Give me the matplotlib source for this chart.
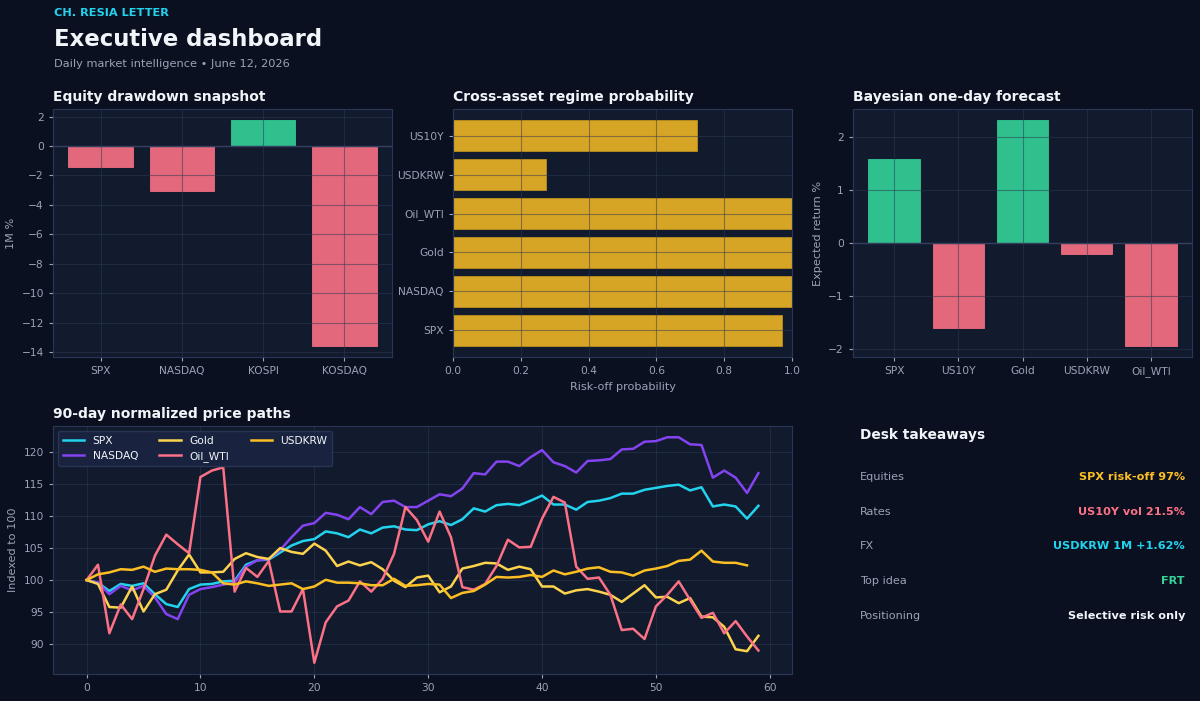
import numpy as np
import matplotlib
matplotlib.use("Agg")
import matplotlib.pyplot as plt

# ---- data ----
eq_names = ["SPX", "NASDAQ", "KOSPI", "KOSDAQ"]
eq_1m = [-1.41, -3.09, 1.75, -13.57]

regime_names = ["SPX", "NASDAQ", "Gold", "Oil_WTI", "USDKRW", "US10Y"]
regime_prob = [0.97, 1.0, 1.0, 1.0, 0.275, 0.72]

fc_names = ["SPX", "US10Y", "Gold", "USDKRW", "Oil_WTI"]
fc_ret = [1.58, -1.61, 2.31, -0.21, -1.94]

spx = [100.0, 99.6, 98.3, 99.4, 99.1, 99.5, 97.8, 96.25, 95.8, 98.6,
       99.3, 99.4, 99.8, 99.9, 102.4, 103.1, 103.2, 104.3, 105.4, 106.1,
       106.4, 107.6, 107.3, 106.7, 107.9, 107.3, 108.2, 108.4, 107.9, 107.8,
       108.7, 109.2, 108.6, 109.5, 111.2, 110.7, 111.7, 111.9, 111.7, 112.4,
       113.2, 111.8, 111.8, 111.0, 112.2, 112.4, 112.8, 113.5, 113.5, 114.1,
       114.4, 114.7, 114.9, 114.0, 114.5, 111.5, 111.8, 111.5, 109.6, 111.6]
nasdaq = [100.0, 99.6, 97.8, 99.1, 98.4, 99.1, 97.3, 94.7, 93.9, 97.7,
          98.6, 98.9, 99.3, 99.6, 102.1, 103.1, 103.3, 104.7, 106.7, 108.5,
          108.9, 110.5, 110.2, 109.5, 111.4, 110.3, 112.2, 112.4, 111.4, 111.4,
          112.4, 113.4, 113.1, 114.3, 116.7, 116.5, 118.5, 118.5, 117.8, 119.2,
          120.3, 118.4, 117.8, 116.8, 118.6, 118.7, 118.9, 120.4, 120.5, 121.6,
          121.7, 122.3, 122.3, 121.2, 121.1, 116.0, 117.1, 116.0, 113.6, 116.7]
gold = [100.0, 99.4, 95.8, 95.7, 99.0, 95.1, 97.8, 98.5, 101.5, 104.0,
        101.2, 101.2, 101.3, 103.3, 104.2, 103.6, 103.3, 105.0, 104.4, 104.1,
        105.7, 104.6, 102.2, 102.9, 102.3, 102.8, 101.7, 99.9, 98.9, 100.4,
        100.7, 98.1, 99.0, 101.8, 102.2, 102.7, 102.6, 101.6, 102.1, 101.7,
        99.0, 99.0, 97.9, 98.4, 98.6, 98.2, 97.7, 96.6, 97.9, 99.2,
        97.3, 97.4, 96.4, 97.2, 94.3, 94.2, 92.7, 89.2, 88.9, 91.3]
oil = [100.0, 102.4, 91.7, 96.2, 93.9, 98.6, 103.8, 107.1, 105.6, 104.2,
       116.1, 117.1, 117.6, 98.2, 101.9, 100.5, 103.0, 95.1, 95.1, 98.6,
       87.1, 93.4, 95.9, 96.8, 99.8, 98.2, 100.2, 104.1, 111.4, 109.4,
       106.0, 110.7, 106.7, 98.9, 98.5, 99.4, 102.2, 106.3, 105.1, 105.2,
       109.6, 113.0, 112.1, 102.1, 100.2, 100.4, 97.7, 92.2, 92.4, 90.8,
       95.9, 97.7, 99.8, 96.9, 94.1, 94.9, 91.7, 93.6, 91.2, 89.0]
usdkrw = [100.0, 100.9, 101.2, 101.7, 101.6, 102.1, 101.3, 101.8, 101.7, 101.7,
          101.6, 101.2, 99.5, 99.3, 99.8, 99.5, 99.1, 99.3, 99.5, 98.6,
          99.0, 100.05, 99.6, 99.6, 99.5, 99.2, 99.2, 100.2, 99.1, 99.2,
          99.4, 99.3, 97.2, 98.0, 98.3, 99.3, 100.5, 100.4, 100.5, 100.8,
          100.5, 101.5, 100.9, 101.3, 101.8, 102.0, 101.3, 101.2, 100.7, 101.5,
          101.8, 102.2, 103.0, 103.2, 104.6, 102.9, 102.7, 102.7, 102.3]

takeaway_keys = ["Equities", "Rates", "FX", "Top idea", "Positioning"]
takeaway_vals = ["SPX risk-off 97%", "US10Y vol 21.5%", "USDKRW 1M +1.62%", "FRT", "Selective risk only"]

# ---- style ----
BG = "#0b1020"
PANEL = "#121a2e"
EDGE = "#2a3656"
GRID = "#2c3852"
TICK = "#9aa3b8"
WHITE = "#f1f5f9"
GREEN = "#34d399"
RED = "#fb7185"
AMBER = "#fbbf24"
CYAN = "#22d3ee"
PURPLE = "#8443f0"
PALE = "#fcd34d"

W, H = 1200, 701


def rect(l, t, r, b):
    return [l / W, 1 - b / H, (r - l) / W, (b - t) / H]


def style(ax, title):
    ax.set_facecolor(PANEL)
    for s in ax.spines.values():
        s.set_color(EDGE)
    ax.tick_params(colors=TICK, labelsize=7.7, length=3)
    ax.grid(True, color=GRID, linewidth=0.8, alpha=0.5)
    ax.set_title(title, loc="left", color=WHITE, fontsize=10,
                 fontweight="bold", pad=6)


fig = plt.figure(figsize=(12, 7.01), dpi=100, facecolor=BG)

fig.text(54 / W, 1 - 13 / H, "CH. RESIA LETTER", color=CYAN, fontsize=8.2,
         fontweight="bold", va="center")
fig.text(54 / W, 1 - 39 / H, "Executive dashboard", color=WHITE, fontsize=16.4,
         fontweight="bold", va="center")
fig.text(54 / W, 1 - 64 / H, "Daily market intelligence \u2022 June 12, 2026",
         color=TICK, fontsize=8.2, va="center")

# equity drawdown
ax1 = fig.add_axes(rect(53, 109, 392, 357))
style(ax1, "Equity drawdown snapshot")
ax1.bar(eq_names, eq_1m, width=0.8, alpha=0.9,
        color=[GREEN if v >= 0 else RED for v in eq_1m],
        edgecolor=[GREEN if v >= 0 else RED for v in eq_1m], linewidth=0.6)
ax1.axhline(0, color="#34405e", linewidth=1)
ax1.set_ylabel("1M %", color=TICK, fontsize=8.1)

# regime probability
ax2 = fig.add_axes(rect(453, 109, 792, 357))
style(ax2, "Cross-asset regime probability")
ax2.barh(regime_names, regime_prob, height=0.8, color=AMBER, alpha=0.85,
         edgecolor="#c8961c", linewidth=0.6)
ax2.set_xlim(0, 1)
ax2.set_xlabel("Risk-off probability", color=TICK, fontsize=8.1)

# forecast
ax3 = fig.add_axes(rect(853, 109, 1192, 357))
style(ax3, "Bayesian one-day forecast")
ax3.bar(fc_names, fc_ret, width=0.8, alpha=0.9,
        color=[GREEN if v >= 0 else RED for v in fc_ret],
        edgecolor=[GREEN if v >= 0 else RED for v in fc_ret], linewidth=0.6)
ax3.axhline(0, color="#34405e", linewidth=1)
ax3.set_ylabel("Expected return %", color=TICK, fontsize=8.1)

# price paths
ax4 = fig.add_axes(rect(53, 426, 792, 674))
style(ax4, "90-day normalized price paths")
ax4.plot(np.arange(len(spx)), spx, color=CYAN, lw=1.8, label="SPX")
ax4.plot(np.arange(len(nasdaq)), nasdaq, color=PURPLE, lw=1.8, label="NASDAQ")
ax4.plot(np.arange(len(gold)), gold, color=PALE, lw=1.8, label="Gold")
ax4.plot(np.arange(len(oil)), oil, color=RED, lw=1.8, label="Oil_WTI")
ax4.plot(np.arange(len(usdkrw)), usdkrw, color=AMBER, lw=1.8, label="USDKRW")
ax4.set_ylabel("Indexed to 100", color=TICK, fontsize=8.1)
leg = ax4.legend(loc="upper left", ncol=3, fontsize=7.7, frameon=True,
                 facecolor="#1a2440", edgecolor=EDGE, labelcolor=WHITE,
                 framealpha=0.95)

# takeaways
fig.text(860 / W, 1 - 435 / H, "Desk takeaways", color=WHITE, fontsize=9.9,
         fontweight="bold", va="center")
row_colors = [AMBER, RED, CYAN, GREEN, WHITE]
for i, (k, v) in enumerate(zip(takeaway_keys, takeaway_vals)):
    y = 1 - (477 + i * 34.7) / H
    fig.text(860 / W, y, k, color=TICK, fontsize=8.1, va="center")
    fig.text(1185 / W, y, v, color=row_colors[i], fontsize=8.1,
             fontweight="bold", va="center", ha="right")

fig.savefig("out.png", dpi=100, facecolor=BG)
